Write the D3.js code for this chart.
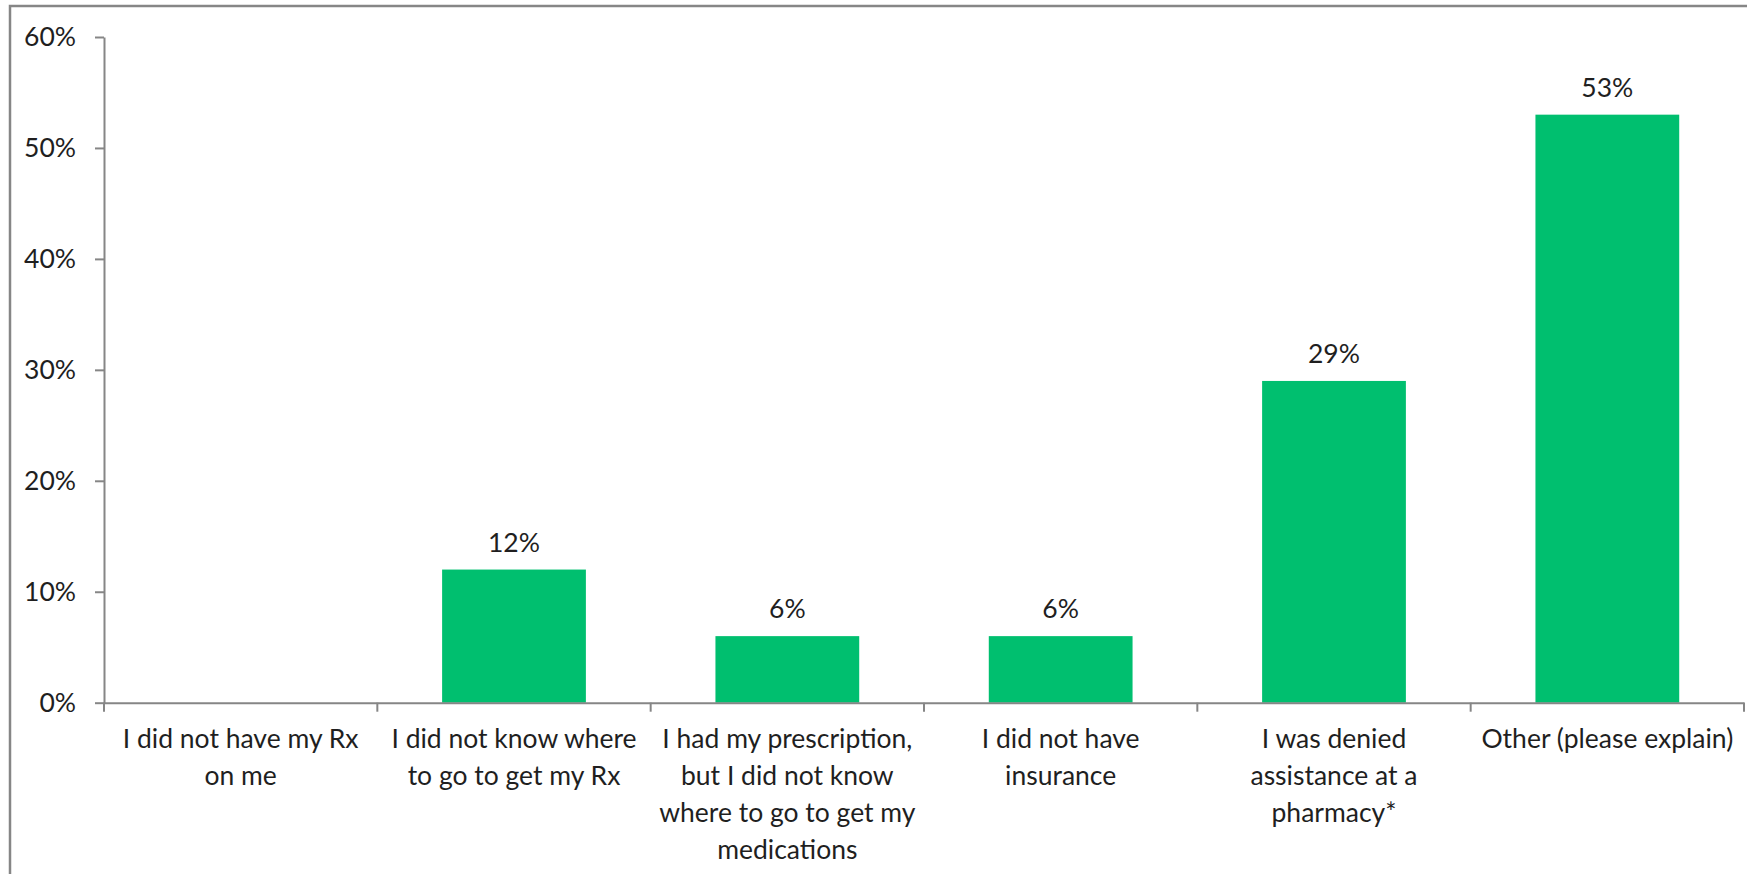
<!DOCTYPE html>
<html>
<head>
<meta charset="utf-8">
<script src="https://cdn.jsdelivr.net/npm/d3@7"></script>
<style>
  body { margin: 0; background: #fff; }
  svg text { font-family: Lato, "Open Sans", sans-serif; fill: #1f1f1f; }
</style>
</head>
<body>
<div id="chart"></div>
<script>
// categories, one entry per line of the wrapped label
var categoryLines = [
    ["I did not have my Rx", "on me"],
    ["I did not know where", "to go to get my Rx"],
    ["I had my prescription,", "but I did not know", "where to go to get my", "medications"],
    ["I did not have", "insurance"],
    ["I was denied", "assistance at a", "pharmacy*"],
    ["Other (please explain)"]
];
var categories = categoryLines.map(function(l) { return l.join(" "); });

// share of respondents
var values = [0, 0.12, 0.06, 0.06, 0.29, 0.53];

// y ticks
var yTicks = [0, 0.1, 0.2, 0.3, 0.4, 0.5, 0.6];

var W = 1747, H = 874;
var fontSize = 26.5;
var axisColor = "#868686";

var svg = d3.select("#chart")
    .append("svg")
    .attr("width", W)
    .attr("height", H);

// outer frame (cut off at right and bottom like the picture)
svg.append("rect")
    .attr("x", 10)
    .attr("y", 6)
    .attr("width", W + 20)
    .attr("height", H + 20)
    .attr("fill", "#fff")
    .attr("stroke", axisColor)
    .attr("stroke-width", 2.5);

var x = d3.scaleBand()
    .domain(categories)
    .range([104, 1744])
    .paddingInner(0.474)
    .paddingOuter(0.237);

var y = d3.scaleLinear()
    .domain([0, 0.6])
    .range([702.7, 37]);

// y axis
var yAxis = svg.append("g")
    .attr("transform", "translate(104,0)")
    .call(d3.axisLeft(y)
        .tickValues(yTicks)
        .tickFormat(d3.format(".0%"))
        .tickSize(9)
        .tickSizeOuter(0)
        .tickPadding(19));
yAxis.select(".domain").attr("stroke", axisColor).attr("stroke-width", 2);
yAxis.selectAll(".tick line").attr("stroke", axisColor).attr("stroke-width", 2);
yAxis.selectAll("text")
    .style("font-size", fontSize + "px")
    .attr("fill", "#1f1f1f");

// bars
svg.selectAll(".bar")
    .data(values)
    .enter()
    .append("rect")
    .attr("class", "bar")
    .attr("x", function(d, i) { return x(categories[i]); })
    .attr("width", x.bandwidth())
    .attr("y", function(d) { return y(d); })
    .attr("height", function(d) { return y(0) - y(d); })
    .attr("fill", "#00bf6f");

// x axis
var xAxis = svg.append("g")
    .attr("transform", "translate(0," + y(0) + ")")
    .call(d3.axisBottom(x).tickSize(0).tickSizeOuter(0).tickFormat(""));
xAxis.select(".domain").attr("stroke", axisColor).attr("stroke-width", 2);

// separator ticks between categories
var half = (x.step() - x.bandwidth()) / 2;
var edges = categories.map(function(c) { return x(c) - half; });
edges.push(x(categories[categories.length - 1]) + x.bandwidth() + half);
xAxis.selectAll(".sep")
    .data(edges)
    .enter()
    .append("line")
    .attr("class", "sep")
    .attr("x1", function(d) { return d; })
    .attr("x2", function(d) { return d; })
    .attr("y1", 0)
    .attr("y2", 9)
    .attr("stroke", axisColor)
    .attr("stroke-width", 2);

// category labels
xAxis.selectAll(".tick text").remove();
xAxis.selectAll(".tick").each(function(c, i) {
    var t = d3.select(this).append("text")
        .attr("text-anchor", "middle")
        .attr("fill", "#1f1f1f")
        .style("font-size", fontSize + "px");
    categoryLines[i].forEach(function(line, j) {
        t.append("tspan")
            .attr("x", 0)
            .attr("y", 45 + j * 37)
            .text(line);
    });
});

// value labels (no label on the empty bar)
var labelData = values
    .map(function(v, i) { return { cat: categories[i], v: v }; })
    .filter(function(d) { return d.v > 0; });

svg.selectAll(".val")
    .data(labelData)
    .enter()
    .append("text")
    .attr("class", "val")
    .attr("x", function(d) { return x(d.cat) + x.bandwidth() / 2; })
    .attr("y", function(d) { return y(d.v) - 18; })
    .attr("text-anchor", "middle")
    .style("font-size", fontSize + "px")
    .text(function(d) { return d3.format(".0%")(d.v); });
</script>
</body>
</html>
